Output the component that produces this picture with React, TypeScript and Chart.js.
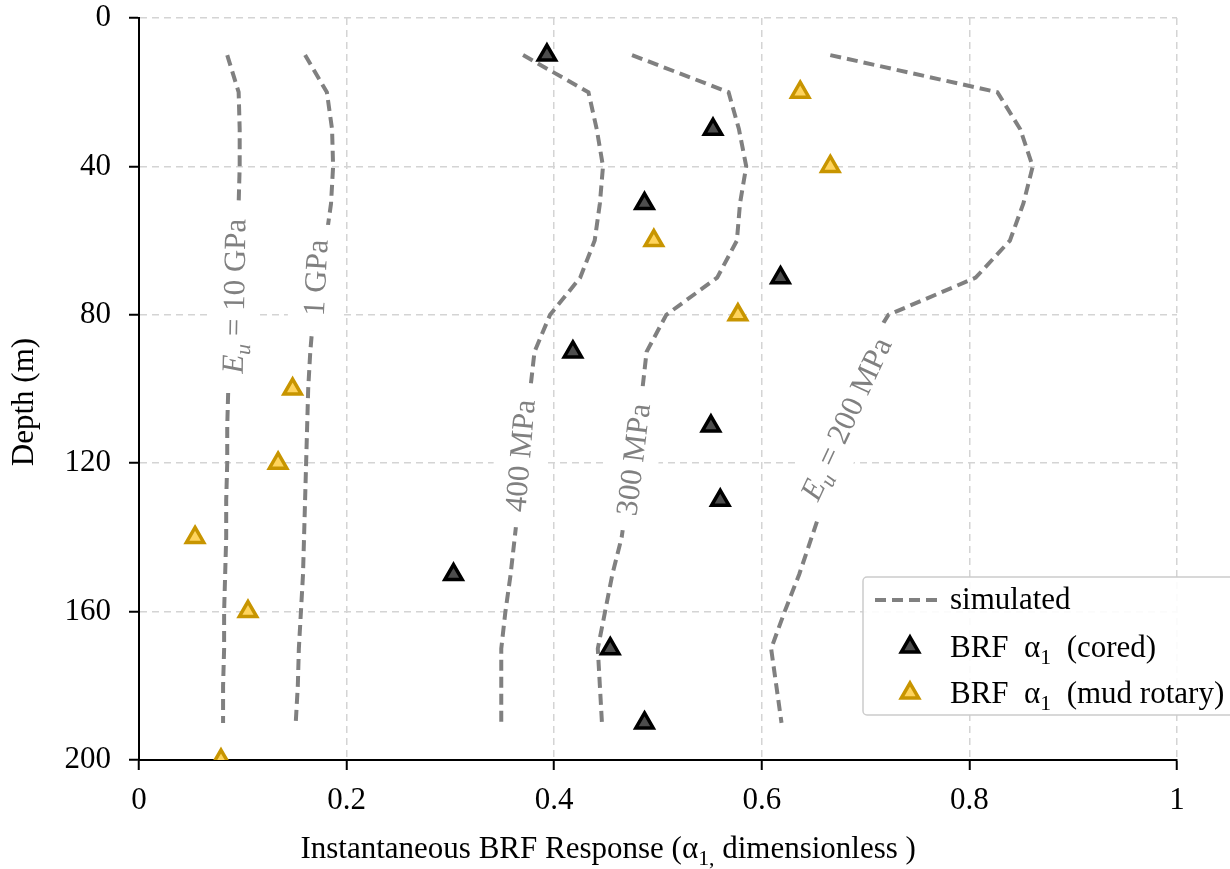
import React, { useEffect, useRef } from 'react';
import { Chart, registerables } from 'chart.js';

Chart.register(...registerables);

// ---------- data ----------
const depths = [10, 20, 30, 40, 50, 60, 70, 80, 90, 100, 110, 120, 130, 140, 150, 160, 170, 180, 190];
const sim10GPa = [0.085, 0.096, 0.097, 0.097, 0.096, 0.094, 0.092, 0.090, 0.088, 0.086, 0.085, 0.085, 0.084, 0.084, 0.083, 0.082, 0.082, 0.081, 0.081];
const sim1GPa = [0.160, 0.181, 0.186, 0.187, 0.185, 0.180, 0.174, 0.168, 0.165, 0.163, 0.162, 0.161, 0.160, 0.159, 0.158, 0.156, 0.154, 0.153, 0.151];
const sim400MPa = [0.370, 0.433, 0.441, 0.447, 0.444, 0.439, 0.425, 0.396, 0.381, 0.377, 0.374, 0.370, 0.366, 0.362, 0.358, 0.353, 0.349, 0.349, 0.349];
const sim300MPa = [0.475, 0.568, 0.578, 0.585, 0.579, 0.576, 0.557, 0.508, 0.489, 0.485, 0.482, 0.476, 0.470, 0.465, 0.456, 0.449, 0.442, 0.444, 0.446];
const sim200MPa = [0.666, 0.827, 0.849, 0.861, 0.852, 0.839, 0.806, 0.722, 0.700, 0.690, 0.680, 0.670, 0.660, 0.648, 0.636, 0.622, 0.609, 0.614, 0.619];

const coredDepth = [10, 30, 50, 70, 90, 110, 130, 150, 170, 190];
const coredAlpha = [0.393, 0.553, 0.487, 0.618, 0.418, 0.551, 0.560, 0.303, 0.454, 0.487];
const mudDepth = [20, 40, 60, 80, 100, 120, 140, 160, 200];
const mudAlpha = [0.637, 0.666, 0.496, 0.577, 0.148, 0.134, 0.054, 0.105, 0.079];

const xTicks = [0, 0.2, 0.4, 0.6, 0.8, 1];
const yTicks = [0, 40, 80, 120, 160, 200];

const curveLabels = ['E_u = 10 GPa', '1 GPa', '400 MPa', '300 MPa', 'E_u = 200 MPa'];
const labelAlpha = [0.0915, 0.170, 0.367, 0.476, 0.681];
const labelDepth = [75, 70, 118, 119, 108];
const labelAngle = [-89, -87, -85, -83, -65];

const xTitle = 'Instantaneous BRF Response (α_{1,} dimensionless )';
const yTitle = 'Depth (m)';
const legendTexts = ['simulated', 'BRF  α_1  (cored)', 'BRF  α_1  (mud rotary)'];

// ---------- styling ----------
const FONT = '"Liberation Serif", "Times New Roman", Times, serif';
const SIZE = 31;
const GRAY = '#808080';
const CURVE_DASH = [11, 6];

type Seg = { t: string; it?: boolean; sub?: boolean };

function parseRich(str: string): Seg[] {
  const segs: Seg[] = [];
  const isLetter = (c: string) => /[A-Za-z]/.test(c);
  let buf = '';
  let i = 0;
  while (i < str.length) {
    if (str[i] === '_') {
      const base = buf.slice(-1);
      buf = buf.slice(0, -1);
      if (buf) segs.push({ t: buf });
      buf = '';
      segs.push({ t: base, it: isLetter(base) });
      i++;
      let sub = '';
      if (str[i] === '{') {
        const j = str.indexOf('}', i);
        sub = str.slice(i + 1, j);
        i = j + 1;
      } else {
        sub = str[i];
        i++;
      }
      segs.push({ t: sub, sub: true, it: isLetter(sub) });
    } else {
      buf += str[i];
      i++;
    }
  }
  if (buf) segs.push({ t: buf });
  return segs;
}

function segFont(size: number, s: Seg) {
  const sz = s.sub ? size * 0.7 : size;
  return `${s.it ? 'italic ' : ''}${sz}px ${FONT}`;
}

function measureSegs(ctx: CanvasRenderingContext2D, segs: Seg[], size: number) {
  let w = 0;
  for (const s of segs) {
    ctx.font = segFont(size, s);
    w += ctx.measureText(s.t).width;
  }
  return w;
}

function drawSegs(ctx: CanvasRenderingContext2D, segs: Seg[], x: number, y: number, size: number) {
  let cx = x;
  ctx.textAlign = 'left';
  ctx.textBaseline = 'alphabetic';
  for (const s of segs) {
    ctx.font = segFont(size, s);
    ctx.fillText(s.t, cx, y + (s.sub ? size * 0.22 : 0));
    cx += ctx.measureText(s.t).width;
  }
}

function triangle(ctx: CanvasRenderingContext2D, x: number, y: number, r: number, fill: string, stroke: string, bw: number) {
  ctx.beginPath();
  ctx.moveTo(x, y - r);
  ctx.lineTo(x + r * Math.sin((2 * Math.PI) / 3), y - r * Math.cos((2 * Math.PI) / 3));
  ctx.lineTo(x + r * Math.sin((4 * Math.PI) / 3), y - r * Math.cos((4 * Math.PI) / 3));
  ctx.closePath();
  ctx.fillStyle = fill;
  ctx.fill();
  ctx.lineWidth = bw;
  ctx.strokeStyle = stroke;
  ctx.lineJoin = 'miter';
  ctx.stroke();
}

const curveLabelPlugin = {
  id: 'curveLabels',
  beforeDatasetDraw(chart: any, args: any) {
    if (args.index !== 1) return;
    const { ctx } = chart;
    const xs = chart.scales.x;
    const ys = chart.scales.y;
    curveLabels.forEach((txt, i) => {
      const px = xs.getPixelForValue(labelAlpha[i]);
      const py = ys.getPixelForValue(labelDepth[i]);
      const segs = parseRich(txt);
      const w = measureSegs(ctx, segs, SIZE);
      ctx.save();
      ctx.translate(px, py);
      ctx.rotate((labelAngle[i] * Math.PI) / 180);
      const h = SIZE * 1.2 + 14;
      ctx.fillStyle = '#ffffff';
      ctx.fillRect(-w / 2 - 15, -h / 2, w + 30, h);
      ctx.fillStyle = GRAY;
      drawSegs(ctx, segs, -w / 2, SIZE * 0.33, SIZE);
      ctx.restore();
    });
  },
};

const decorPlugin = {
  id: 'decor',
  afterDraw(chart: any) {
    const { ctx, chartArea } = chart;
    const ds = chart.data.datasets;
    // axis titles
    ctx.save();
    ctx.fillStyle = '#000';
    const xs = parseRich(xTitle);
    const xw = measureSegs(ctx, xs, SIZE);
    const xc = chartArea.left + 0.452 * (chartArea.right - chartArea.left);
    drawSegs(ctx, xs, xc - xw / 2, chartArea.bottom + 98, SIZE);
    ctx.translate(25, chartArea.top + 384);
    ctx.rotate(-Math.PI / 2);
    ctx.font = `${SIZE}px ${FONT}`;
    ctx.textAlign = 'center';
    ctx.textBaseline = 'middle';
    ctx.fillText(yTitle, 0, 0);
    ctx.restore();

    // legend
    ctx.save();
    const bx = chartArea.right - 314;
    const by = chartArea.bottom - 183;
    const bw = 400;
    const bh = 138;
    ctx.beginPath();
    const rr = 4;
    ctx.moveTo(bx + rr, by);
    ctx.lineTo(bx + bw, by);
    ctx.lineTo(bx + bw, by + bh);
    ctx.lineTo(bx + rr, by + bh);
    ctx.arcTo(bx, by + bh, bx, by + bh - rr, rr);
    ctx.lineTo(bx, by + rr);
    ctx.arcTo(bx, by, bx + rr, by, rr);
    ctx.closePath();
    ctx.fillStyle = 'rgba(255,255,255,0.9)';
    ctx.fill();
    ctx.strokeStyle = '#cccccc';
    ctx.lineWidth = 1.5;
    ctx.stroke();

    const textX = bx + 87;
    const rows = [by + 23, by + 71, by + 117];
    // line sample
    const curve = ds[2];
    ctx.beginPath();
    ctx.setLineDash(curve.borderDash);
    ctx.strokeStyle = curve.borderColor;
    ctx.lineWidth = curve.borderWidth;
    ctx.moveTo(bx + 12, rows[0]);
    ctx.lineTo(bx + 80, rows[0]);
    ctx.stroke();
    ctx.setLineDash([]);
    // triangles
    [ds[0], ds[1]].forEach((d: any, k: number) => {
      triangle(ctx, bx + 47, rows[k + 1] - 1, d.pointRadius, d.pointBackgroundColor, d.pointBorderColor, d.pointBorderWidth);
    });
    ctx.fillStyle = '#000';
    legendTexts.forEach((t, k) => {
      drawSegs(ctx, parseRich(t), textX, rows[k] + 9, SIZE);
    });
    ctx.restore();
  },
};

export default function App() {
  const ref = useRef<HTMLCanvasElement>(null);

  useEffect(() => {
    const canvas = ref.current;
    if (!canvas) return;
    const mk = (arr: number[]) => arr.map((v, i) => ({ x: v, y: depths[i] }));
    const curveStyle = {
      type: 'line' as const,
      showLine: true,
      borderColor: GRAY,
      borderWidth: 4,
      borderDash: CURVE_DASH,
      pointRadius: 0,
      pointHoverRadius: 0,
      fill: false,
      tension: 0,
      label: 'simulated',
    };
    const gridColor = () => '#d4d4d4';
    const chart = new Chart(canvas, {
      type: 'scatter',
      data: {
        datasets: [
          {
            label: legendTexts[1],
            data: coredAlpha.map((v, i) => ({ x: v, y: coredDepth[i] })),
            pointStyle: 'triangle',
            pointRadius: 10,
            pointBorderWidth: 3.5,
            pointBackgroundColor: '#4d4d4d',
            pointBorderColor: '#000000',
            showLine: false,
            clip: 0,
          } as any,
          {
            label: legendTexts[2],
            data: mudAlpha.map((v, i) => ({ x: v, y: mudDepth[i] })),
            pointStyle: 'triangle',
            pointRadius: 10,
            pointBorderWidth: 3.5,
            pointBackgroundColor: '#ffd45c',
            pointBorderColor: '#c89500',
            showLine: false,
            clip: 0,
          } as any,
          { ...curveStyle, data: mk(sim10GPa) } as any,
          { ...curveStyle, data: mk(sim1GPa) } as any,
          { ...curveStyle, data: mk(sim400MPa) } as any,
          { ...curveStyle, data: mk(sim300MPa) } as any,
          { ...curveStyle, data: mk(sim200MPa) } as any,
        ],
      },
      options: {
        responsive: false,
        devicePixelRatio: 1,
        animation: false,
        events: [],
        layout: { padding: { left: 0, top: 18, right: 53, bottom: 0 } },
        plugins: {
          legend: { display: false },
          tooltip: { enabled: false },
          title: { display: false },
        },
        font: { family: FONT, size: SIZE },
        scales: {
          x: {
            type: 'linear',
            position: 'bottom',
            min: 0,
            max: 1,
            afterBuildTicks: (s: any) => {
              s.ticks = xTicks.map((v) => ({ value: v }));
            },
            afterFit: (s: any) => {
              s.height = 109;
              s.paddingLeft = 0;
              s.paddingRight = 0;
            },
            ticks: {
              color: '#000',
              font: { family: FONT, size: SIZE },
              padding: 12,
              maxRotation: 0,
              callback: (v: any) => String(v),
            },
            grid: {
              color: gridColor,
              lineWidth: 1.5,
              drawTicks: true,
              tickLength: 10,
              tickColor: '#000',
              tickWidth: 2,
            },
            border: { display: true, color: '#000', width: 2, dash: [7, 5] },
            title: { display: false },
          },
          y: {
            type: 'linear',
            reverse: true,
            min: 0,
            max: 200,
            afterBuildTicks: (s: any) => {
              s.ticks = yTicks.map((v) => ({ value: v }));
            },
            afterFit: (s: any) => {
              s.width = 139;
              s.paddingTop = 0;
              s.paddingBottom = 0;
            },
            ticks: {
              color: '#000',
              font: { family: FONT, size: SIZE },
              padding: 18,
              callback: (v: any) => String(v),
            },
            grid: {
              color: gridColor,
              lineWidth: 1.5,
              drawTicks: true,
              tickLength: 10,
              tickColor: '#000',
              tickWidth: 2,
            },
            border: { display: true, color: '#000', width: 2, dash: [7, 5] },
            title: { display: false },
          },
        },
      } as any,
      plugins: [curveLabelPlugin, decorPlugin],
    });
    return () => chart.destroy();
  }, []);

  return (
    <div style={{ position: 'absolute', left: 0, top: 0, width: 1230, height: 869, background: '#fff', overflow: 'hidden' }}>
      <canvas ref={ref} width={1230} height={869} style={{ display: 'block', width: 1230, height: 869 }} />
    </div>
  );
}
